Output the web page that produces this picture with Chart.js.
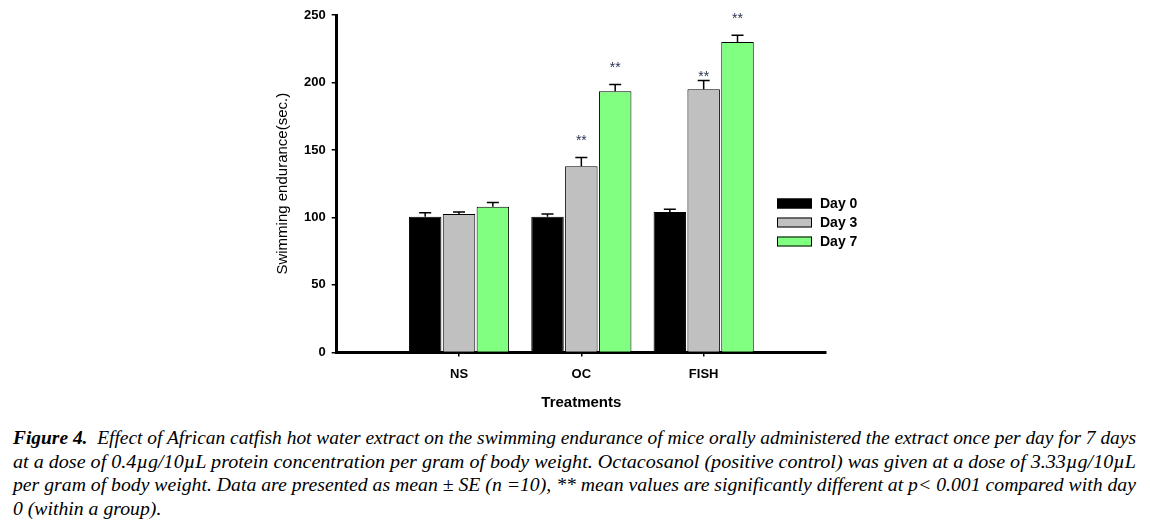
<!DOCTYPE html>
<html>
<head>
<meta charset="utf-8">
<script src="https://cdn.jsdelivr.net/npm/chart.js@4.4.1/dist/chart.umd.min.js"></script>
<style>
  html, body { margin: 0; padding: 0; background: #fff; }
  #wrap { position: relative; width: 1150px; height: 530px; overflow: hidden; }
  #chartBox { position: absolute; left: 0; top: 0; width: 1150px; height: 420px; }
  #caption { position: absolute; left: 13px; top: 426px; width: 1123px;
    font-family: "Liberation Serif", "Times New Roman", serif; font-style: italic;
    font-size: 19px; line-height: 23.5px; color: #000; }
  #caption div { white-space: nowrap; }
  #caption span { display: inline-block; transform-origin: 0 50%; }
</style>
</head>
<body>
<div id="wrap">
  <div id="chartBox"><canvas id="endChart" width="1150" height="420"></canvas></div>
  <div id="caption">
    <div><span><b>Figure 4.</b>&nbsp; Effect of African catfish hot water extract on the swimming endurance of mice orally administered the extract once per day for 7 days</span></div>
    <div><span>at a dose of 0.4µg/10µL protein concentration per gram of body weight. Octacosanol (positive control) was given at a dose of 3.33µg/10µL</span></div>
    <div><span>per gram of body weight. Data are presented as mean ± SE (n =10), ** mean values are significantly different at p&lt; 0.001 compared with day</span></div>
    <div><span class="last">0 (within a group).</span></div>
  </div>
</div>
<script>
// empty slots at both ends so the groups sit where the original axis puts them
const treatments = ['', 'NS', 'OC', 'FISH', ''];

const day0 = [null, 100.5, 100.5, 104, null];
const day3 = [null, 102.5, 138, 195, null];
const day7 = [null, 108, 193.5, 230, null];

// standard errors
const day0Err = [null, 3, 2, 2, null];
const day3Err = [null, 1.5, 6.5, 6.5, null];
const day7Err = [null, 3, 5, 5, null];

// significance marks
const day0Sig = ['', '', '', '', ''];
const day3Sig = ['', '', '**', '**', ''];
const day7Sig = ['', '', '**', '**', ''];

const yTicks = [0, 50, 100, 150, 200, 250];

// error bars + ** marks
const errorBars = {
  id: 'errorBars',
  afterDatasetsDraw(chart) {
    const ctx = chart.ctx;
    const yScale = chart.scales.y;
    ctx.save();
    chart.data.datasets.forEach((ds, i) => {
      const meta = chart.getDatasetMeta(i);
      meta.data.forEach((bar, j) => {
        const v = ds.data[j];
        const e = ds.err[j];
        if (v == null || e == null) return;
        const top = yScale.getPixelForValue(v + e);
        ctx.strokeStyle = '#000';
        ctx.lineWidth = 1.5;
        ctx.beginPath();
        ctx.moveTo(bar.x, bar.y);
        ctx.lineTo(bar.x, top);
        ctx.moveTo(bar.x - 6, top);
        ctx.lineTo(bar.x + 6, top);
        ctx.stroke();
        const s = ds.sig[j];
        if (s) {
          // the FISH day 3 mark sits right on its cap in the original
          const gap = (i == 1 && j == 3) ? 7 : 20;
          ctx.fillStyle = '#2a3450';
          ctx.font = '14px "Liberation Sans", Arial, sans-serif';
          ctx.textAlign = 'center';
          ctx.textBaseline = 'middle';
          ctx.fillText(s, bar.x, top - gap + 4);
        }
      });
    });
    ctx.restore();
  }
};

// legend drawn inside the plot like the original
const sideLegend = {
  id: 'sideLegend',
  afterDraw(chart) {
    const ctx = chart.ctx;
    ctx.save();
    chart.data.datasets.forEach((ds, i) => {
      const cy = 203.5 + i * 19;
      ctx.fillStyle = ds.backgroundColor;
      ctx.fillRect(777, cy - 5, 35, 10);
      ctx.strokeStyle = '#000';
      ctx.lineWidth = 1;
      ctx.strokeRect(777.5, cy - 4.5, 34, 9);
      ctx.fillStyle = '#000';
      ctx.font = 'bold 14px "Liberation Sans", Arial, sans-serif';
      ctx.textAlign = 'left';
      ctx.textBaseline = 'middle';
      ctx.fillText(ds.label, 820, cy + 0.5);
    });
    ctx.restore();
  }
};

const data = {
  labels: treatments,
  datasets: [
    { label: 'Day 0', data: day0, err: day0Err, sig: day0Sig,
      backgroundColor: '#000000', borderColor: '#000000', borderWidth: 1 },
    { label: 'Day 3', data: day3, err: day3Err, sig: day3Sig,
      backgroundColor: '#c0c0c0', borderColor: '#000000', borderWidth: 1 },
    { label: 'Day 7', data: day7, err: day7Err, sig: day7Sig,
      backgroundColor: '#80ff80', borderColor: '#000000', borderWidth: 1 }
  ]
};

const config = {
  type: 'bar',
  data: data,
  options: {
    responsive: false,
    animation: false,
    devicePixelRatio: 1,
    categoryPercentage: 0.83,
    barPercentage: 0.96,
    layout: { padding: { left: 274, right: 324, top: 15, bottom: 8 } },
    plugins: {
      legend: { display: false },
      tooltip: { enabled: false }
    },
    scales: {
      x: {
        offset: false,
        grid: {
          display: true, offset: false, drawOnChartArea: false, drawTicks: true, tickLength: 4, lineWidth: 1.5,
          color: (c) => (c.index == 0 || c.index == treatments.length - 1) ? 'rgba(0,0,0,0)' : '#000'
        },
        border: { display: true, color: '#000', width: 3 },
        ticks: {
          autoSkip: false, maxRotation: 0, padding: 10, color: '#000',
          font: { family: '"Liberation Sans", Arial, sans-serif', size: 13, weight: 'bold' }
        },
        title: {
          display: true, text: 'Treatments', color: '#000', padding: { top: 2, bottom: 0 },
          font: { family: '"Liberation Sans", Arial, sans-serif', size: 15, weight: 'bold' }
        }
      },
      y: {
        min: 0, max: 250,
        afterBuildTicks: (s) => { s.ticks = yTicks.map(v => ({ value: v })); },
        grid: { display: true, drawOnChartArea: false, drawTicks: true, tickLength: 5, lineWidth: 1.5, color: '#000' },
        border: { display: true, color: '#000', width: 3 },
        ticks: {
          padding: 6, color: '#000',
          font: { family: '"Liberation Sans", Arial, sans-serif', size: 13, weight: 'bold' }
        },
        title: {
          display: true, text: 'Swimming endurance(sec.)', color: '#000', padding: { top: 0, bottom: 6 },
          font: { family: '"Liberation Sans", Arial, sans-serif', size: 15 }
        }
      }
    }
  },
  plugins: [errorBars, sideLegend]
};

const myChart = new Chart(document.getElementById('endChart'), config);

// squeeze the caption lines to the width of the original block
const capWidth = 1123;
let lastScale = 1;
document.querySelectorAll('#caption span').forEach(sp => {
  const w = sp.getBoundingClientRect().width;
  if (sp.classList.contains('last')) {
    sp.style.transform = 'scaleX(' + lastScale + ')';
  } else {
    lastScale = capWidth / w;
    sp.style.transform = 'scaleX(' + lastScale + ')';
  }
});
</script>
</body>
</html>
